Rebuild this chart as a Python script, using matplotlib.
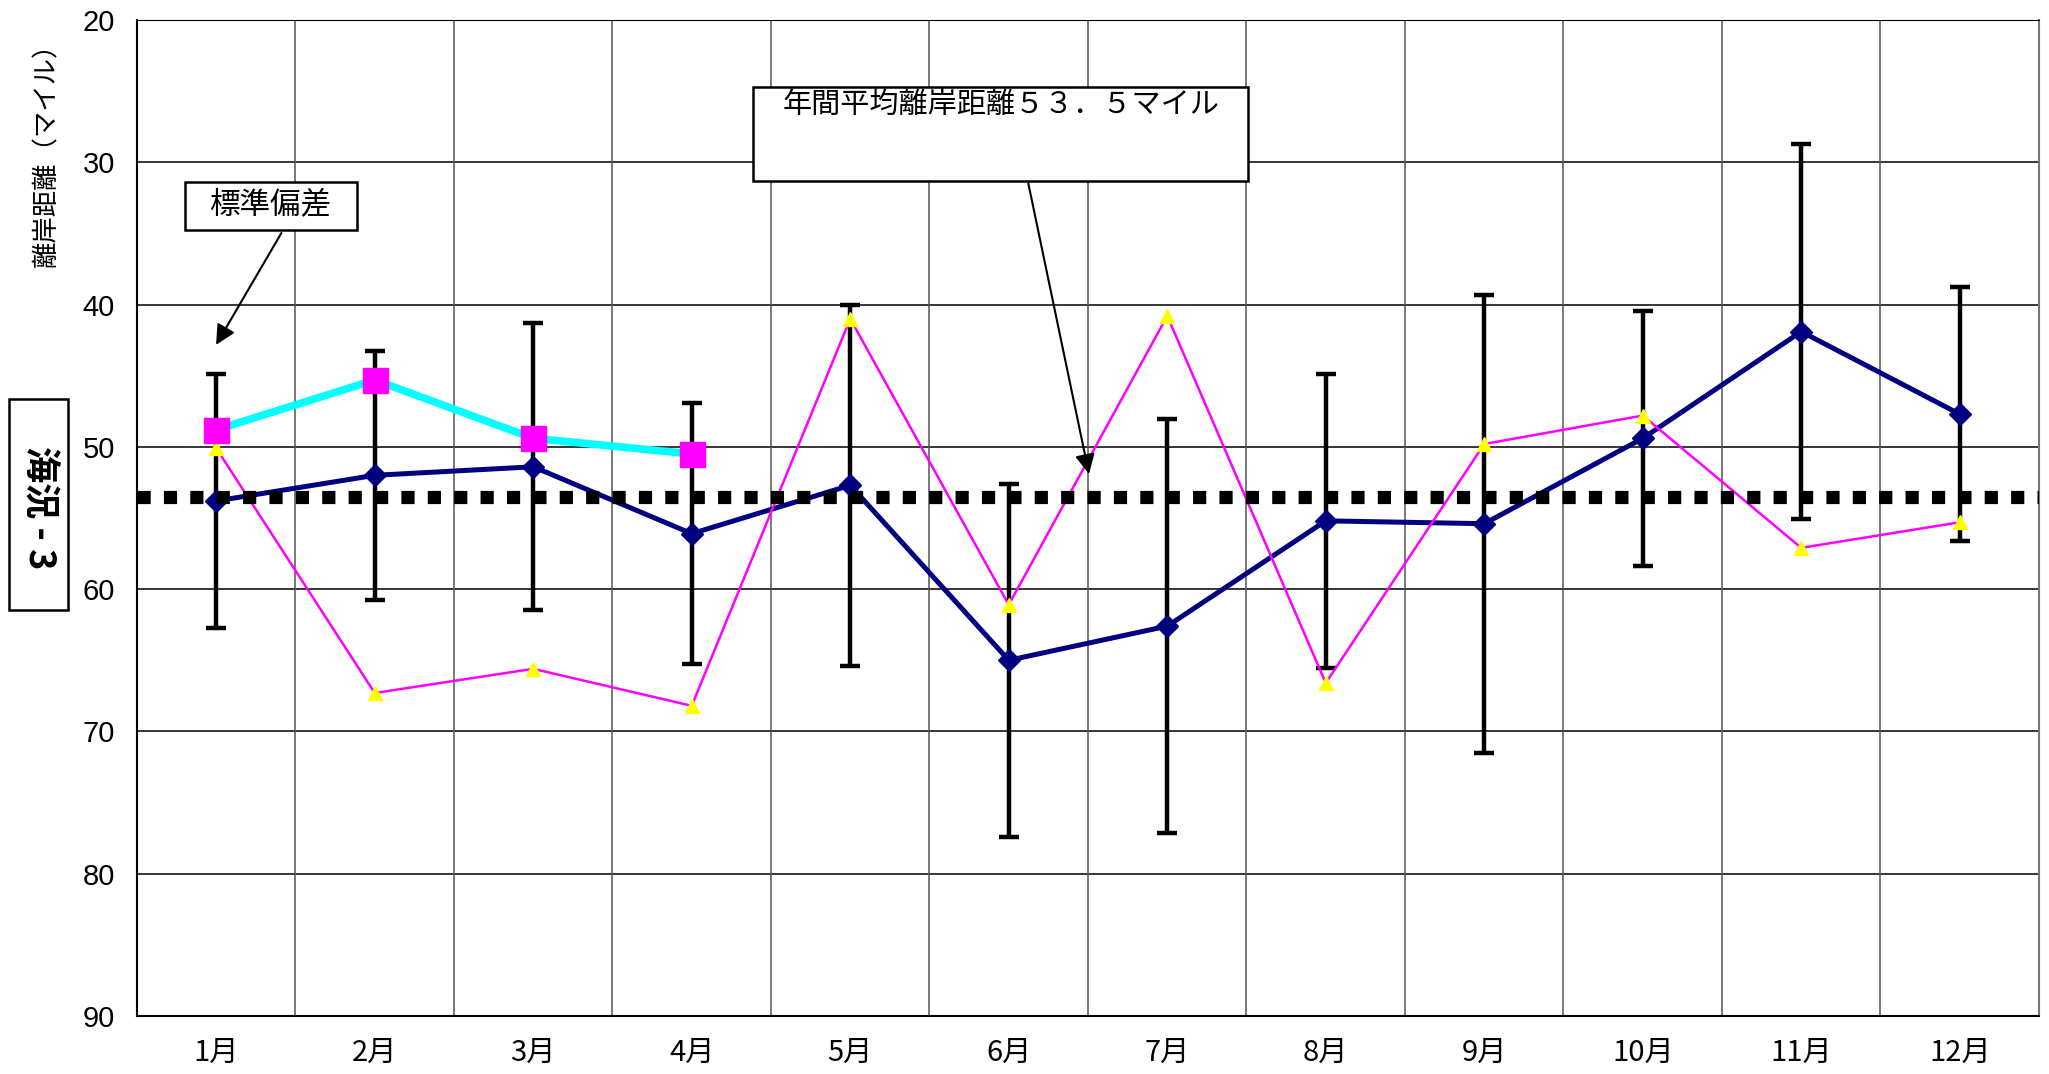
import matplotlib
matplotlib.use("Agg")
import matplotlib.pyplot as plt
from matplotlib.patches import Rectangle

plt.rcParams['font.family'] = ['Noto Sans CJK JP', 'DejaVu Sans']

months = ["1月", "2月", "3月", "4月", "5月", "6月", "7月", "8月", "9月", "10月", "11月", "12月"]
mean_dist = [53.8, 52.0, 51.4, 56.1, 52.7, 65.0, 62.6, 55.2, 55.4, 49.4, 41.9, 47.7]
std_dev = [8.95, 8.75, 10.1, 9.15, 12.7, 12.4, 14.55, 10.35, 16.1, 8.95, 13.2, 8.95]
year_dist = [50.1, 67.3, 65.6, 68.2, 41.0, 61.1, 40.8, 66.6, 49.8, 47.8, 57.1, 55.3]
recent_dist = [48.8, 45.3, 49.4, 50.5]
annual_mean = 53.5
yticks = [20, 30, 40, 50, 60, 70, 80, 90]

fig = plt.figure(figsize=(20.49, 10.74), dpi=100)
ax = fig.add_axes([137/2049, 1-1016/1074, (2039-137)/2049, (1016-20)/1074])

x = list(range(1, 13))
x_recent = x[:len(recent_dist)]

# grid
for yv in yticks:
    ax.axhline(yv, color='black', lw=1.1, zorder=0)
for xv in range(1, 13):
    ax.axvline(xv + 0.5, color='#555555', lw=1.1, zorder=0)

ax.errorbar(x, mean_dist, yerr=std_dev, fmt='none', ecolor='black',
            elinewidth=3.2, capsize=7, capthick=3.2, zorder=2)
ax.plot(x, mean_dist, color='#000080', lw=3.6, marker='D', markersize=11,
        markerfacecolor='#000080', markeredgecolor='#000080', zorder=3)
ax.plot(x, year_dist, color='#FF00FF', lw=1.8, zorder=3)
ax.plot(x, year_dist, ls='none', marker='^', markersize=10,
        markerfacecolor='#FFFF00', markeredgecolor='#FFFF00', zorder=4)
ax.plot(x_recent, recent_dist, color='#00FFFF', lw=5.5, zorder=4)
ax.axhline(annual_mean, color='black', lw=9.5, ls=(0, (1, 1)),
           dash_capstyle='butt', zorder=5)
ax.plot(x_recent, recent_dist, ls='none', marker='s', markersize=18,
        markerfacecolor='#FF00FF', markeredgecolor='#FF00FF', zorder=6)

ax.set_xlim(0.5, 12.5)
ax.set_ylim(90, 20)
ax.set_yticks(yticks)
ax.set_yticklabels([str(v) for v in yticks], family='Liberation Sans', fontsize=21)
ax.set_xticks(x)
ax.set_xticklabels(months, fontsize=21)
ax.tick_params(axis='y', length=0, pad=16)
ax.tick_params(axis='x', length=0, pad=16)
for s in ['left', 'bottom']:
    ax.spines[s].set_color('black')
    ax.spines[s].set_linewidth(1.5)
ax.spines['top'].set_color('black')
ax.spines['right'].set_color('#777777')
ax.spines['right'].set_linewidth(1.5)

# annotation: 標準偏差
ax.annotate("", xy=(0.99, 43.0), xytext=(1.42, 34.8),
            arrowprops=dict(arrowstyle='-|>', color='black', lw=1.5,
                            mutation_scale=30), zorder=7)
ax.add_patch(Rectangle((0.80, 31.4), 1.885 - 0.80, 34.75 - 31.4, fc='white',
                       ec='black', lw=1.8, zorder=8))
ax.text(1.34, 33.0, "標準偏差", fontsize=22, ha='center', va='center', zorder=9)

# annotation: annual mean
ax.annotate("", xy=(6.51, 52.1), xytext=(6.12, 31.3),
            arrowprops=dict(arrowstyle='-|>', color='black', lw=1.5,
                            mutation_scale=30), zorder=7)
ax.add_patch(Rectangle((4.386, 24.7), 7.51 - 4.386, 31.3 - 24.7, fc='white',
                       ec='black', lw=1.8, zorder=8))
ax.text(5.95, 26.0, "年間平均離岸距離５３．５マイル", fontsize=21, ha='center',
        va='center', zorder=9)

# y label
fig.text(47/2049, 1 - 30/1074, "離岸距離（マイル）", rotation=90, fontsize=19,
         ha='center', va='top')

# 海況-3 box
fig.patches.append(Rectangle((9/2049, 1 - 610/1074), 59/2049, 211/1074,
                             transform=fig.transFigure, fc='white', ec='black',
                             lw=1.8, figure=fig))
fig.text(38.5/2049, 1 - 508/1074, "海況 - 3", rotation=-90, fontsize=26,
         fontweight='bold', ha='center', va='center')

fig.savefig("out.png", dpi=100)
